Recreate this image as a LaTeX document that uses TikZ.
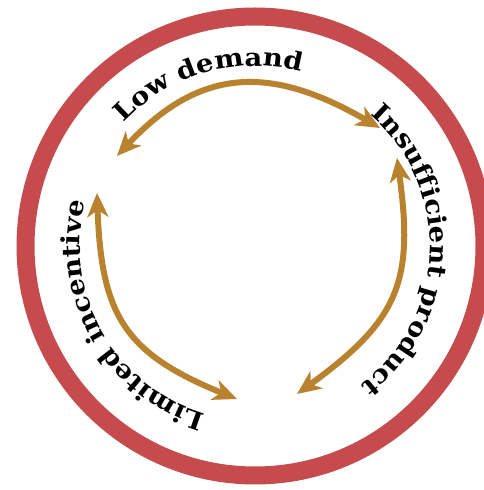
\documentclass[tikz,border=0pt]{standalone}
\usepackage{fontspec}
\newfontfamily\ringfont[FakeStretch=1.1]{DejaVu Serif}
\usetikzlibrary{arrows.meta,decorations.text}
\definecolor{ringred}{HTML}{C64B4C}
\definecolor{loopbrown}{HTML}{B9822F}
\begin{document}
\begin{tikzpicture}[x=1pt, y=1pt, line join=round,
    loop arrow/.style={loopbrown, line width=6pt,
      {Stealth[length=24pt,width=21pt,inset=7pt]}-{Stealth[length=24pt,width=21pt,inset=7pt]}},
    ring text/.style={decorate, decoration={text along path, text align=center,
      text={|\ringfont\bfseries\fontsize{25}{25}\selectfont|#1}}}]
  \useasboundingbox (0,0) rectangle (484,490);
  \coordinate (O) at (255,244);
  \draw[ringred, line width=18pt] (O) circle[radius=229.5];

  \coordinate (demand l) at (117,334);
  \coordinate (demand r) at (380,362);
  \coordinate (product t) at (397,332);
  \coordinate (product b) at (297,96);
  \coordinate (incentive b) at (237,91);
  \coordinate (incentive t) at (97,297);

  \draw[loop arrow] (demand l) to[out=47, in=150, looseness=1.2] (demand r);
  \draw[loop arrow] (product t) to[out=-82, in=36, looseness=1.25] (product b);
  \draw[loop arrow] (incentive t) to[out=-88, in=158, looseness=1.25] (incentive b);

  \path[ring text=Low demand] ([shift={(136:180)}]O) arc[start angle=136, end angle=76, radius=180];
  \path[ring text=Insufficient product] ([shift={(49:175)}]O) arc[start angle=49, end angle=-53, radius=175];
  \path[ring text=Limited incentive] ([shift={(255:175)}]O) arc[start angle=255, end angle=164, radius=175];
\end{tikzpicture}
\end{document}
